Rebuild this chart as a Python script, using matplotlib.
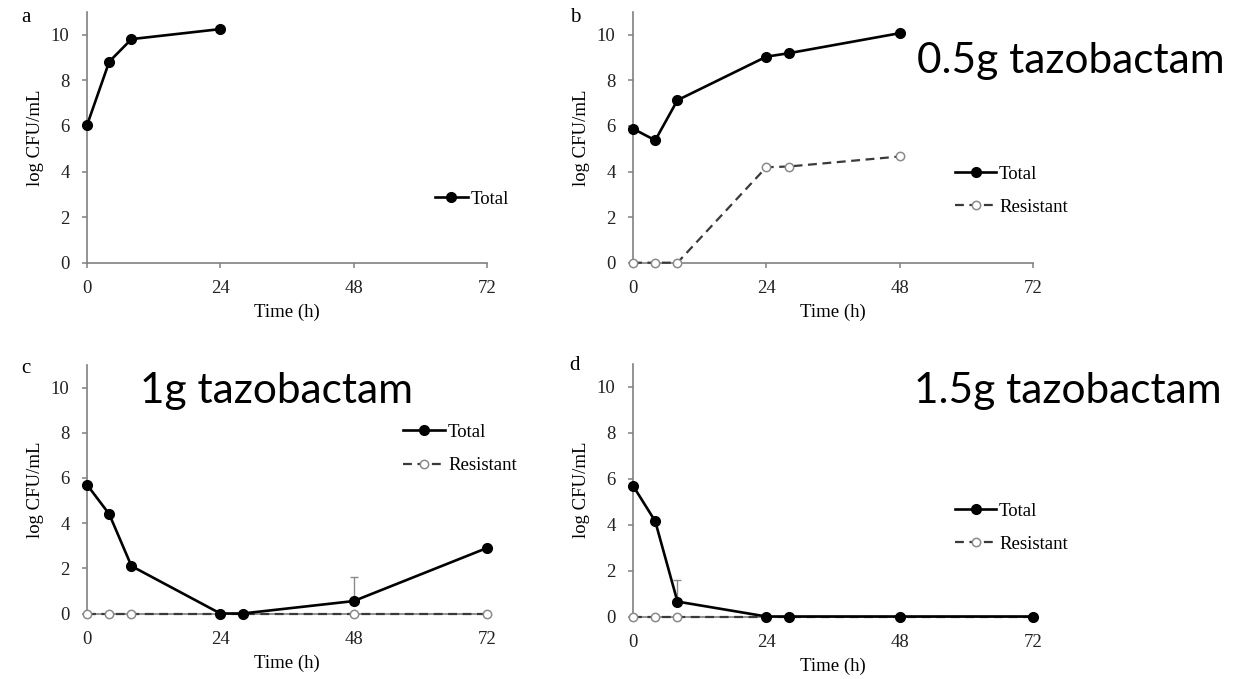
import numpy as np
import matplotlib
matplotlib.use("Agg")
import matplotlib.pyplot as plt

plt.rcParams['font.family'] = ['Liberation Serif', 'DejaVu Serif']

# time points (h) and log CFU/mL per regimen
t_a = [0, 4, 8, 24]
total_a = [6.03, 8.82, 9.81, 10.25]

t_b = [0, 4, 8, 24, 28, 48]
total_b = [5.88, 5.37, 7.13, 9.04, 9.19, 10.07]
resist_b = [0, 0, 0, 4.19, 4.22, 4.66]

t_c = [0, 4, 8, 24, 28, 48, 72]
total_c = [5.7, 4.4, 2.1, 0, 0, 0.55, 2.9]
total_c_err = [0, 0, 0, 0, 0, 1.05, 0]
resist_c = [0, 0, 0, 0, 0, 0, 0]

t_d = [0, 4, 8, 24, 28, 48, 72]
total_d = [5.7, 4.15, 0.65, 0, 0, 0, 0]
total_d_err = [0, 0, 0.95, 0, 0, 0, 0]
resist_d = [0, 0, 0, 0, 0, 0, 0]

panel_letters = ['a', 'b', 'c', 'd']
dose_labels = ['0.5g tazobactam', '1g tazobactam', '1.5g tazobactam']

W, H = 1238, 679
fig = plt.figure(figsize=(W / 100, H / 100), dpi=100)
FS = 13.5
GREY = '#808080'


def px_axes(x0, x1, y0, ytop):
    # pixel box -> figure fraction
    return fig.add_axes([x0 / W, 1 - y0 / H, (x1 - x0) / W, (y0 - ytop) / H])


def style(ax):
    ax.set_xlim(0, 72)
    ax.set_ylim(0, 11)
    ax.set_xticks([0, 24, 48, 72])
    ax.set_yticks(range(0, 11, 2))
    for s in ['top', 'right']:
        ax.spines[s].set_visible(False)
    for s in ['left', 'bottom']:
        ax.spines[s].set_color(GREY)
        ax.spines[s].set_linewidth(1.2)
    ax.tick_params(direction='out', length=3.5, width=1.1, color=GREY,
                   labelsize=FS, labelcolor='#222222')
    ax.tick_params(axis='x', pad=9)
    ax.tick_params(axis='y', pad=9)
    ax.set_xlabel('Time (h)', fontsize=FS, labelpad=5)
    ax.set_ylabel('log CFU/mL', fontsize=FS, labelpad=5)
    ax.patch.set_alpha(0)


def draw_total(ax, t, y, err=None):
    if err is not None:
        ax.errorbar(t, y, yerr=[np.zeros(len(err)), err], fmt='none',
                    ecolor='#8a8a8a', elinewidth=1, capsize=3, zorder=2)
    ax.plot(t, y, '-', color='black', lw=1.9, marker='o', ms=7,
            mfc='black', mec='black', label='Total', zorder=4, clip_on=False)


def draw_resist(ax, t, y):
    ax.plot(t, y, '--', color='#3a3a3a', lw=1.6, marker='o', ms=6,
            mfc='white', mec='#8a8a8a', mew=1.1, dashes=(4, 2.5),
            label='Resistant', zorder=3, clip_on=False)


ax_a = px_axes(87, 487, 262.7, 12)
ax_b = px_axes(633, 1033, 262.7, 12)
ax_c = px_axes(87, 487, 613.5, 365)
ax_d = px_axes(633, 1033, 616.5, 364)

draw_total(ax_a, t_a, total_a)

draw_resist(ax_b, t_b, resist_b)
draw_total(ax_b, t_b, total_b)

draw_resist(ax_c, t_c, resist_c)
draw_total(ax_c, t_c, total_c, total_c_err)

draw_resist(ax_d, t_d, resist_d)
draw_total(ax_d, t_d, total_d, total_d_err)

for ax in [ax_a, ax_b, ax_c, ax_d]:
    style(ax)


def place_legend(ax, px, py, hlen):
    h, l = ax.get_legend_handles_labels()
    order = [l.index('Total')] + [i for i, s in enumerate(l) if s != 'Total']
    ax.legend([h[i] for i in order], [l[i] for i in order],
              loc='center left', bbox_to_anchor=(px / W, 1 - py / H),
              bbox_transform=fig.transFigure, frameon=False, fontsize=FS,
              handlelength=hlen, handletextpad=0.15, labelspacing=0.85,
              borderpad=0, borderaxespad=0)


place_legend(ax_a, 435, 199, 1.75)
place_legend(ax_b, 955, 190.5, 2.2)
place_legend(ax_c, 403, 449, 2.25)
place_legend(ax_d, 955, 527.5, 2.2)

# panel letters
for letter, (px, py) in zip(panel_letters, [(26, 18), (575, 18), (26, 369), (575, 366)]):
    fig.text(px / W, 1 - py / H, letter, fontsize=15, ha='center', va='center')

# dose annotations (baseline positions)
for txt, (px, py) in zip(dose_labels, [(917, 73), (140, 403), (914, 403)]):
    fig.text(px / W, 1 - py / H, txt, fontsize=30.5, family=['Lato', 'DejaVu Sans'],
             ha='left', va='baseline')

fig.savefig('out.png', dpi=100)
